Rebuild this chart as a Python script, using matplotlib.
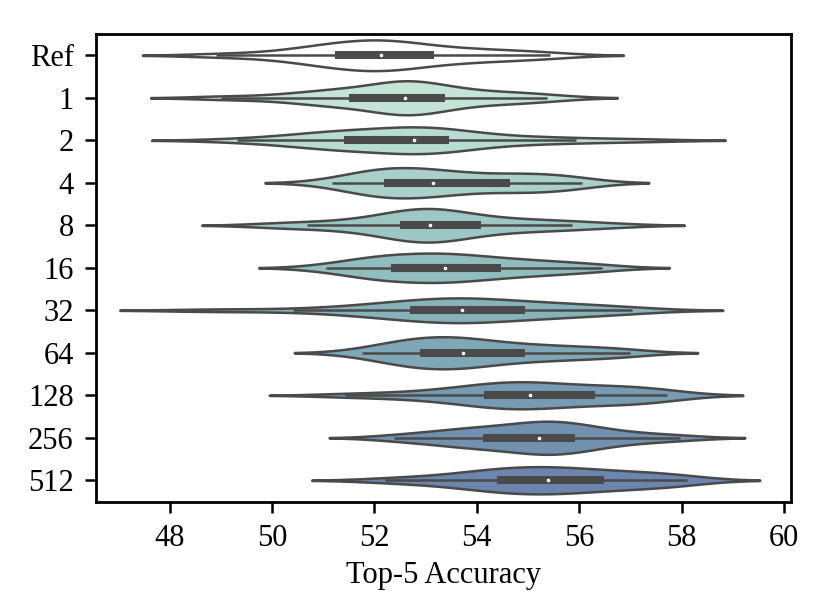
import numpy as np
import pandas as pd
import matplotlib
matplotlib.use("Agg")
import matplotlib.pyplot as plt
import seaborn as sns

plt.rcParams['font.family'] = ['Liberation Serif', 'DejaVu Serif']
plt.rcParams['font.size'] = 11

# ---- data (Top-5 accuracy samples per setting) ----
groups = ["Ref", "1", "2", "4", "8", "16", "32", "64", "128", "256", "512"]

acc_ref = [48.9, 49.9, 50.5, 50.8, 51.0, 51.1, 51.23, 51.5, 51.7, 51.85, 51.97, 52.06, 52.13,
           52.22, 52.35, 52.5, 52.7, 52.92, 53.17, 53.45, 53.75, 54.1, 54.5, 54.95, 55.43]
acc_1 = [49.0, 50.1, 50.7, 51.05, 51.25, 51.4, 51.5, 52.1, 52.35, 52.45, 52.52, 52.57, 52.6,
         52.64, 52.7, 52.78, 52.88, 53.02, 53.38, 53.6, 53.85, 54.2, 54.6, 55.0, 55.37]
acc_2 = [49.31, 50.2, 50.7, 50.95, 51.15, 51.3, 51.41, 51.7, 52.0, 52.25, 52.45, 52.62, 52.78,
         52.88, 52.98, 53.08, 53.2, 53.32, 53.45, 53.75, 54.15, 54.65, 55.3, 55.94, 57.19]
acc_4 = [51.17, 51.6, 51.85, 52.0, 52.08, 52.14, 52.19, 52.45, 52.65, 52.8, 52.93, 53.04, 53.15,
         53.33, 53.55, 53.8, 54.07, 54.38, 54.64, 54.85, 55.05, 55.3, 55.55, 55.8, 56.05]
acc_8 = [50.05, 50.68, 51.3, 51.8, 52.1, 52.3, 52.5, 52.68, 52.82, 52.91, 52.98, 53.04, 53.09,
         53.16, 53.26, 53.4, 53.58, 53.82, 54.08, 54.35, 54.7, 55.1, 55.5, 55.85, 56.63]
acc_16 = [51.06, 51.5, 51.8, 52.0, 52.15, 52.25, 52.33, 52.6, 52.82, 52.98, 53.11, 53.24, 53.37,
          53.5, 53.65, 53.82, 54.02, 54.23, 54.47, 54.7, 54.95, 55.25, 55.6, 56.0, 56.44]
acc_32 = [48.79, 50.41, 51.5, 51.95, 52.1, 52.45, 52.7, 52.95, 53.15, 53.32, 53.47, 53.6, 53.71,
          53.85, 54.0, 54.2, 54.45, 54.7, 54.95, 55.25, 55.45, 55.8, 56.2, 56.6, 57.04]
acc_64 = [51.75, 52.15, 52.4, 52.58, 52.7, 52.8, 52.89, 53.08, 53.25, 53.4, 53.52, 53.63, 53.73,
          53.85, 54.0, 54.2, 54.45, 54.7, 54.94, 55.2, 55.5, 55.85, 56.2, 56.6, 57.0]
acc_128 = [51.43, 52.4, 53.0, 53.45, 53.8, 54.0, 54.14, 54.35, 54.52, 54.68, 54.8, 54.92, 55.04,
           55.2, 55.4, 55.6, 55.85, 56.1, 56.31, 56.55, 56.8, 57.05, 57.3, 57.5, 57.71]
acc_256 = [52.38, 52.9, 53.3, 53.6, 53.85, 54.0, 54.13, 54.4, 54.65, 54.85, 55.0, 55.12, 55.22,
           55.33, 55.45, 55.57, 55.68, 55.8, 55.92, 56.1, 56.3, 56.55, 56.9, 57.4, 57.97]
acc_512 = [52.2, 52.9, 53.4, 53.8, 54.05, 54.25, 54.39, 54.58, 54.76, 54.93, 55.08, 55.24, 55.39,
           55.55, 55.72, 55.9, 56.08, 56.28, 56.49, 56.75, 57.0, 57.3, 57.6, 57.85, 58.1]

samples = [acc_ref, acc_1, acc_2, acc_4, acc_8, acc_16, acc_32, acc_64, acc_128, acc_256, acc_512]
xticks = [48, 50, 52, 54, 56, 58, 60]

# ---- styles ----
fill_colors = ["#ffffff", "#c4e4d8", "#b7dcd1", "#a9d0c9", "#9dc7c3", "#91bdbe",
               "#87b2ba", "#7fa8b6", "#779bb2", "#7091b0", "#6b85ad"]
edge = "#4a4a4a"

df = pd.DataFrame({
    "group": np.repeat(groups, [len(s) for s in samples]),
    "acc": np.concatenate([np.asarray(s, float) for s in samples]),
})

fig = plt.figure(figsize=(4.08, 3.07), dpi=200)
ax = fig.add_axes([0.1176, 0.1832, 0.8513, 0.7614])

sns.violinplot(data=df, x="acc", y="group", order=groups, hue="group", hue_order=groups,
               palette=fill_colors, saturation=1, legend=False, inner=None, cut=2,
               bw_method=0.46, density_norm="area", common_norm=True, width=0.8,
               linewidth=0.9, linecolor=edge, ax=ax)

# inner box (quartiles, 1.5 IQR whiskers, median)
for i, s in enumerate(samples):
    a = np.asarray(s, float)
    q1, med, q3 = np.percentile(a, [25, 50, 75])
    iqr = q3 - q1
    lo = a[a >= q1 - 1.5 * iqr].min()
    hi = a[a <= q3 + 1.5 * iqr].max()
    ax.plot([lo, hi], [i, i], color=edge, lw=0.9, solid_capstyle="butt", zorder=3)
    ax.plot([q1, q3], [i, i], color=edge, lw=2.9, solid_capstyle="butt", zorder=3)
    ax.plot([med], [i], marker="o", ms=1.3, mfc="white", mec="white", mew=0, zorder=4)

ax.set_xlim(46.56, 60.13)
ax.set_ylim(len(groups) - 0.5, -0.5)
ax.set_xticks(xticks)
ax.set_xticklabels([str(t) for t in xticks])
ax.set_xlabel("Top-5 Accuracy", fontsize=11, labelpad=3)
ax.set_ylabel("")
ax.tick_params(axis="both", direction="out", length=4, width=0.9, labelsize=11,
               colors="black", pad=4)
for sp in ax.spines.values():
    sp.set_visible(True)
    sp.set_color("black")
    sp.set_linewidth(1.0)

fig.savefig("out.png", dpi=200)
